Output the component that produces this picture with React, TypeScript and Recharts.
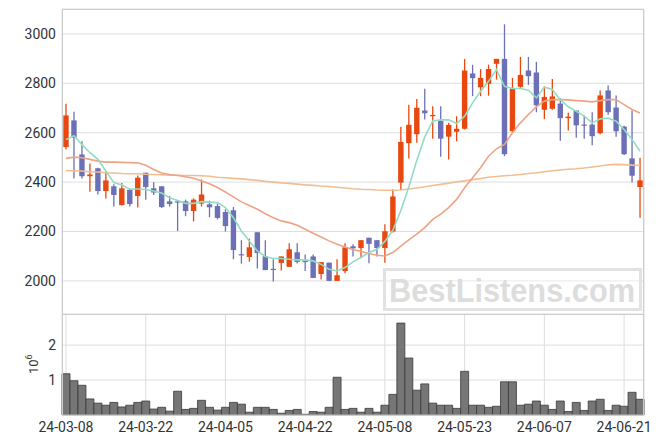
import React from "react";
import { ComposedChart, BarChart, Bar, Line, XAxis, YAxis, CartesianGrid } from "recharts";

// trading days (KRX), yy-mm-dd
const dates = [
  "24-03-08", "24-03-11", "24-03-12", "24-03-13", "24-03-14", "24-03-15", "24-03-18", "24-03-19", "24-03-20", "24-03-21",
  "24-03-22", "24-03-25", "24-03-26", "24-03-27", "24-03-28", "24-03-29", "24-04-01", "24-04-02", "24-04-03", "24-04-04",
  "24-04-05", "24-04-08", "24-04-09", "24-04-11", "24-04-12", "24-04-15", "24-04-16", "24-04-17", "24-04-18", "24-04-19",
  "24-04-22", "24-04-23", "24-04-24", "24-04-25", "24-04-26", "24-04-29", "24-04-30", "24-05-02", "24-05-03", "24-05-07",
  "24-05-08", "24-05-09", "24-05-10", "24-05-13", "24-05-14", "24-05-16", "24-05-17", "24-05-20", "24-05-21", "24-05-22",
  "24-05-23", "24-05-24", "24-05-27", "24-05-28", "24-05-29", "24-05-30", "24-05-31", "24-06-03", "24-06-04", "24-06-05",
  "24-06-07", "24-06-10", "24-06-11", "24-06-12", "24-06-13", "24-06-14", "24-06-17", "24-06-18", "24-06-19", "24-06-20",
  "24-06-21", "24-06-24", "24-06-25",
];

const tickDates = ["24-03-08", "24-03-22", "24-04-05", "24-04-22", "24-05-08", "24-05-23", "24-06-07", "24-06-21"];

const opens = [
  2542, 2650, 2512, 2424, 2456, 2364, 2383, 2307, 2369, 2344,
  2438, 2375, 2383, 2322, 2322, 2322, 2283, 2313, 2310, 2303,
  2279, 2286, 2108, 2097, 2197, 2100, 2049, 2073, 2057, 2116,
  2081, 2099, 2028, 2074, 2000, 2040, 2140, 2133, 2175, 2165,
  2133, 2200, 2398, 2558, 2594, 2690, 2667, 2648, 2584, 2604,
  2616, 2840, 2784, 2798, 2879, 2899, 2606, 2786, 2852, 2844,
  2693, 2697, 2718, 2659, 2690, 2633, 2633, 2598, 2771, 2702,
  2625, 2496, 2380,
];
const highs = [
  2717, 2685, 2566, 2475, 2458, 2445, 2391, 2396, 2372, 2427,
  2438, 2399, 2383, 2344, 2325, 2329, 2334, 2411, 2325, 2313,
  2290, 2299, 2165, 2171, 2197, 2165, 2088, 2099, 2152, 2152,
  2107, 2107, 2076, 2074, 2088, 2152, 2148, 2165, 2175, 2165,
  2229, 2371, 2624, 2713, 2737, 2778, 2707, 2707, 2640, 2667,
  2899, 2875, 2858, 2876, 2899, 3039, 2822, 2907, 2907, 2887,
  2788, 2818, 2740, 2681, 2690, 2670, 2683, 2771, 2791, 2751,
  2628, 2690, 2499,
];
const lows = [
  2532, 2415, 2415, 2361, 2350, 2334, 2301, 2305, 2301, 2297,
  2329, 2348, 2295, 2301, 2202, 2262, 2241, 2301, 2258, 2249,
  2200, 2088, 2070, 2078, 2050, 2043, 1998, 2042, 2057, 2070,
  2040, 2012, 2006, 2000, 2000, 2031, 2099, 2095, 2072, 2099,
  2074, 2196, 2368, 2496, 2559, 2654, 2576, 2503, 2492, 2566,
  2613, 2748, 2748, 2750, 2815, 2505, 2602, 2782, 2794, 2683,
  2655, 2693, 2568, 2609, 2580, 2576, 2549, 2594, 2673, 2584,
  2510, 2398, 2256,
];
const closes = [
  2670, 2580, 2424, 2431, 2364, 2407, 2348, 2375, 2311, 2418,
  2380, 2358, 2299, 2311, 2320, 2283, 2329, 2350, 2298, 2255,
  2222, 2125, 2105, 2136, 2113, 2044, 2046, 2099, 2128, 2077,
  2078, 2012, 2076, 2000, 2023, 2136, 2132, 2165, 2150, 2133,
  2201, 2342, 2563, 2632, 2701, 2679, 2672, 2576, 2632, 2616,
  2852, 2821, 2822, 2858, 2899, 2513, 2778, 2834, 2829, 2711,
  2745, 2747, 2659, 2665, 2630, 2630, 2586, 2751, 2683, 2606,
  2513, 2426, 2407,
];

// moving averages as drawn
const ma5 = [
  2572, 2588, 2552, 2519, 2492, 2445, 2398, 2388, 2372, 2372,
  2370, 2364, 2356, 2337, 2326, 2314, 2314, 2321, 2319, 2317,
  2297, 2256, 2202, 2162, 2121, 2099, 2091, 2091, 2088, 2085,
  2085, 2081, 2067, 2047, 2040, 2054, 2077, 2095, 2115, 2128,
  2160, 2205, 2285, 2380, 2488, 2583, 2648, 2652, 2652, 2637,
  2667, 2721, 2768, 2808, 2856, 2788, 2779, 2779, 2772, 2741,
  2784, 2775, 2734, 2705, 2687, 2667, 2640, 2656, 2659, 2647,
  2613, 2573, 2525,
];
const ma20 = [
  2496, 2501, 2499, 2492, 2485, 2481, 2481, 2480, 2479, 2478,
  2468, 2451, 2437, 2431, 2427, 2422, 2416, 2405, 2393, 2378,
  2360, 2340, 2320, 2305, 2290, 2272, 2256, 2243, 2236, 2225,
  2209, 2193, 2178, 2162, 2148, 2137, 2127, 2119, 2111, 2104,
  2101, 2115, 2141, 2166, 2189, 2216, 2249, 2270, 2297, 2330,
  2377, 2418, 2458, 2505, 2535, 2553, 2600, 2640, 2674, 2705,
  2728, 2734, 2734, 2733, 2730, 2728, 2725, 2730, 2734, 2734,
  2714, 2694, 2680,
];
const ma60 = [
  2447, 2446, 2445, 2442, 2441, 2438, 2437, 2435, 2434, 2434,
  2432, 2431, 2430, 2428, 2428, 2427, 2427, 2426, 2424, 2420,
  2418, 2415, 2413, 2410, 2407, 2403, 2400, 2397, 2395, 2392,
  2389, 2387, 2384, 2382, 2379, 2376, 2373, 2371, 2370, 2368,
  2367, 2367, 2368, 2372, 2376, 2381, 2386, 2391, 2396, 2401,
  2405, 2410, 2415, 2420, 2423, 2426, 2428, 2431, 2435, 2438,
  2442, 2446, 2449, 2452, 2454, 2457, 2461, 2465, 2470, 2472,
  2471, 2469, 2468,
];

// volume, millions of shares
const volumes = [
  1.18, 0.98, 0.85, 0.46, 0.34, 0.28, 0.36, 0.23, 0.28, 0.36,
  0.40, 0.17, 0.22, 0.11, 0.68, 0.16, 0.19, 0.42, 0.22, 0.14,
  0.22, 0.36, 0.31, 0.08, 0.22, 0.22, 0.16, 0.05, 0.13, 0.16,
  0.02, 0.10, 0.08, 0.22, 1.08, 0.16, 0.19, 0.08, 0.19, 0.08,
  0.28, 0.59, 2.63, 1.63, 0.71, 0.89, 0.34, 0.28, 0.28, 0.19,
  1.25, 0.28, 0.28, 0.22, 0.25, 0.95, 0.95, 0.28, 0.31, 0.40,
  0.28, 0.16, 0.40, 0.10, 0.36, 0.13, 0.40, 0.45, 0.13, 0.28,
  0.25, 0.65, 0.45,
];

const UP = "#e8480f";
const DOWN = "#6c70b6";
const GRID = "#dedede";
const FRAME = "#cccccc";

const rows = dates.map((date, i) => ({
  date,
  open: opens[i],
  high: highs[i],
  low: lows[i],
  close: closes[i],
  range: [lows[i], highs[i]],
  ma5: ma5[i],
  ma20: ma20[i],
  ma60: ma60[i],
  volume: volumes[i],
}));

function Candle(props: any) {
  const { x, y, width, height, payload } = props;
  if (!payload) return null;
  const { open, close, high, low } = payload;
  const top = Math.min(y, y + height);
  const h = Math.abs(height);
  const k = high === low ? 0 : h / (high - low);
  const yO = top + (high - open) * k;
  const yC = top + (high - close) * k;
  const color = close >= open ? UP : DOWN;
  const cx = x + width / 2;
  const bw = 5.4;
  return (
    <g>
      <line x1={cx} x2={cx} y1={top} y2={top + h} stroke={color} strokeWidth={1.3} />
      <rect
        x={cx - bw / 2}
        y={Math.min(yO, yC)}
        width={bw}
        height={Math.max(Math.abs(yO - yC), 1.2)}
        fill={color}
      />
    </g>
  );
}

const tickStyle = { fontSize: 14, fill: "#333" };

function VolLabel() {
  return (
    <text x={38} y={374} transform="rotate(-90 38 374)" fontSize={13} fill="#333">
      10
      <tspan dy={-6} fontSize={9}>6</tspan>
    </text>
  );
}

export default function App() {
  return (
    <div
      style={{
        position: "absolute",
        left: 0,
        top: 0,
        width: 663,
        height: 444,
        background: "#fff",
        fontFamily: "Roboto, sans-serif",
      }}
    >
      <ComposedChart
        width={663}
        height={314}
        data={rows}
        margin={{ top: 9, right: 19, left: 0, bottom: 0 }}
        barCategoryGap={0}
      >
        <CartesianGrid stroke={GRID} />
        <XAxis
          dataKey="date"
          ticks={tickDates}
          interval={0}
          tick={false}
          tickLine={false}
          axisLine={false}
          height={0}
        />
        <YAxis
          domain={[1866, 3101]}
          ticks={[2000, 2200, 2400, 2600, 2800, 3000]}
          allowDataOverflow
          width={62}
          tickLine={false}
          axisLine={false}
          tickSize={4}
          tickMargin={2}
          tick={tickStyle}
        />
        <Bar dataKey="range" shape={<Candle />} isAnimationActive={false} />
        <Line dataKey="ma60" stroke="#f2bd91" strokeWidth={1.6} dot={false} isAnimationActive={false} />
        <Line dataKey="ma20" stroke="#efa385" strokeWidth={1.6} dot={false} isAnimationActive={false} />
        <Line dataKey="ma5" stroke="#92dcc3" strokeWidth={1.6} dot={false} isAnimationActive={false} />
      </ComposedChart>

      <div style={{ position: "absolute", left: 0, top: 314 }}>
        <BarChart
          width={663}
          height={130}
          data={rows}
          margin={{ top: 0, right: 19, left: 0, bottom: 0 }}
          barCategoryGap={0}
        >
          <CartesianGrid stroke={GRID} />
          <XAxis
            dataKey="date"
            ticks={tickDates}
            interval={0}
            tickLine={false}
            axisLine={{ stroke: FRAME }}
            height={29}
            tickSize={5}
            tickMargin={2}
            tick={tickStyle}
          />
          <YAxis
            domain={[0, 2.89]}
            ticks={[1, 2]}
            allowDataOverflow
            width={62}
            tickLine={false}
            axisLine={false}
            tickSize={4}
            tickMargin={2}
            tick={tickStyle}
          />
          <Bar dataKey="volume" fill="#767676" stroke="#3a3a3a" strokeWidth={0.8} isAnimationActive={false} />
        </BarChart>
      </div>

      <svg
        width={663}
        height={444}
        style={{ position: "absolute", left: 0, top: 0, pointerEvents: "none" }}
      >
        <rect x={62.5} y={9.5} width={581} height={305} fill="none" stroke={FRAME} />
        <rect x={62.5} y={314.5} width={581} height={101} fill="none" stroke={FRAME} />
        <VolLabel />
        <rect x={384.5} y={269.5} width={256} height={40} fill="rgba(255,255,255,0.35)" stroke="#e2e2e2" strokeWidth={3} />
        <text
          x={389}
          y={302}
          fontSize={33}
          fontWeight="bold"
          fill="#dddddd"
          textLength={246}
          lengthAdjust="spacingAndGlyphs"
          fontFamily="'Liberation Sans', Arial, sans-serif"
        >
          BestListens.com
        </text>
      </svg>
    </div>
  );
}
